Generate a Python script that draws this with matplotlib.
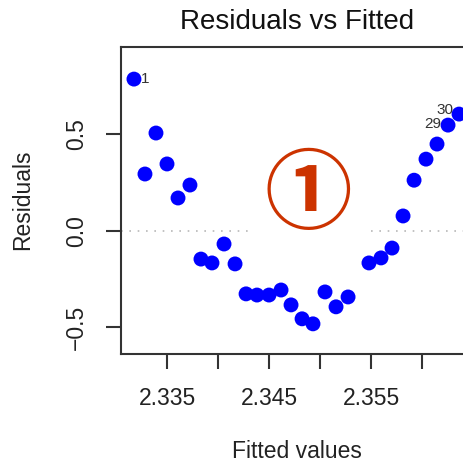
import matplotlib
matplotlib.use("Agg")
import matplotlib.pyplot as plt
from matplotlib.patches import Rectangle

plt.rcParams['font.family'] = ['Liberation Sans', 'DejaVu Sans']

# Fitted values and residuals of the linear model
fitted = [2.33176, 2.33284, 2.33392, 2.33500, 2.33608, 2.33725, 2.33833, 2.33941,
          2.34059, 2.34167, 2.34275, 2.34382, 2.34500, 2.34618, 2.34716, 2.34824,
          2.34931, 2.35049, 2.35157, 2.35275, 2.35480, 2.35598, 2.35706, 2.35814,
          2.35922, 2.36039, 2.36147, 2.36255, 2.36363]
residuals = [0.784, 0.293, 0.505, 0.345, 0.169, 0.236, -0.147, -0.167,
             -0.069, -0.172, -0.327, -0.333, -0.333, -0.307, -0.384, -0.456,
             -0.482, -0.317, -0.394, -0.343, -0.167, -0.141, -0.090, 0.076,
             0.261, 0.370, 0.448, 0.546, 0.603]

# Observations flagged with the largest residuals (index into the arrays, label)
flagged = [(0, "1"), (27, "29"), (28, "30")]

x_ticks = [2.335, 2.340, 2.345, 2.350, 2.355, 2.360]
x_tick_labels = ["2.335", "", "2.345", "", "2.355", ""]
y_ticks = [-0.5, 0.0, 0.5]
y_tick_labels = ["\u22120.5", "0.0", "0.5"]

W = H = 463
fig = plt.figure(figsize=(W / 100, H / 100), dpi=100)
fig.patch.set_facecolor("white")

left_px, right_px, top_px, bottom_px = 121, 472, 47, 354
ax = fig.add_axes([left_px / W, (H - bottom_px) / H,
                   (right_px - left_px) / W, (bottom_px - top_px) / H])

ax.set_xlim(2.33049, 2.36490)
ax.set_ylim(-0.638, 0.950)

ax.axhline(0, color="#b8b8b8", lw=1.2, ls=(0, (1, 4)), zorder=1)
ax.scatter(fitted, residuals, s=115, color="#0000ff", edgecolors="none", zorder=3)

for i, lab in flagged:
    if lab == "1":
        off, ha, va = (5, 0), "left", "center"
    elif lab == "29":
        off, ha, va = (-5, 1), "right", "center"
    else:
        off, ha, va = (-4, 3), "right", "center"
    ax.annotate(lab, (fitted[i], residuals[i]), xytext=off, textcoords="offset points",
                ha=ha, va=va, fontsize=11, color="#333333", zorder=4)

ax.set_xticks(x_ticks)
ax.set_xticklabels(x_tick_labels, fontsize=16.5, color="#222222")
ax.set_yticks(y_ticks)
ax.set_yticklabels(y_tick_labels, fontsize=16.5, color="#222222",
                   rotation=90, va="center")
ax.tick_params(axis="both", direction="out", length=10.5, width=1.5,
               color="#333333", pad=13)

for side in ["left", "bottom", "top", "right"]:
    ax.spines[side].set_color("#333333")
    ax.spines[side].set_linewidth(1.5)

fig.text(297 / W, 1 - 22 / H, "Residuals vs Fitted", ha="center", va="center",
         fontsize=20, color="#111111")
fig.text(297 / W, 1 - 458 / H, "Fitted values", ha="center", va="baseline",
         fontsize=16.5, color="#222222")
fig.text(23 / W, 1 - 200 / H, "Residuals", ha="center", va="center",
         rotation=90, fontsize=16.5, color="#222222")

# Panel marker on a white patch
fig.add_artist(Rectangle((248 / W, 1 - 252 / H), 120 / W, 117 / H,
                         transform=fig.transFigure, facecolor="white",
                         edgecolor="none", zorder=5))
fig.text(308 / W, 1 - 197 / H, "\u2460", ha="center", va="center",
         fontsize=63, color="#cc3300", zorder=6, fontweight="bold",
         family=["Noto Sans CJK JP", "DejaVu Sans"])

fig.savefig("out.png", dpi=100)
